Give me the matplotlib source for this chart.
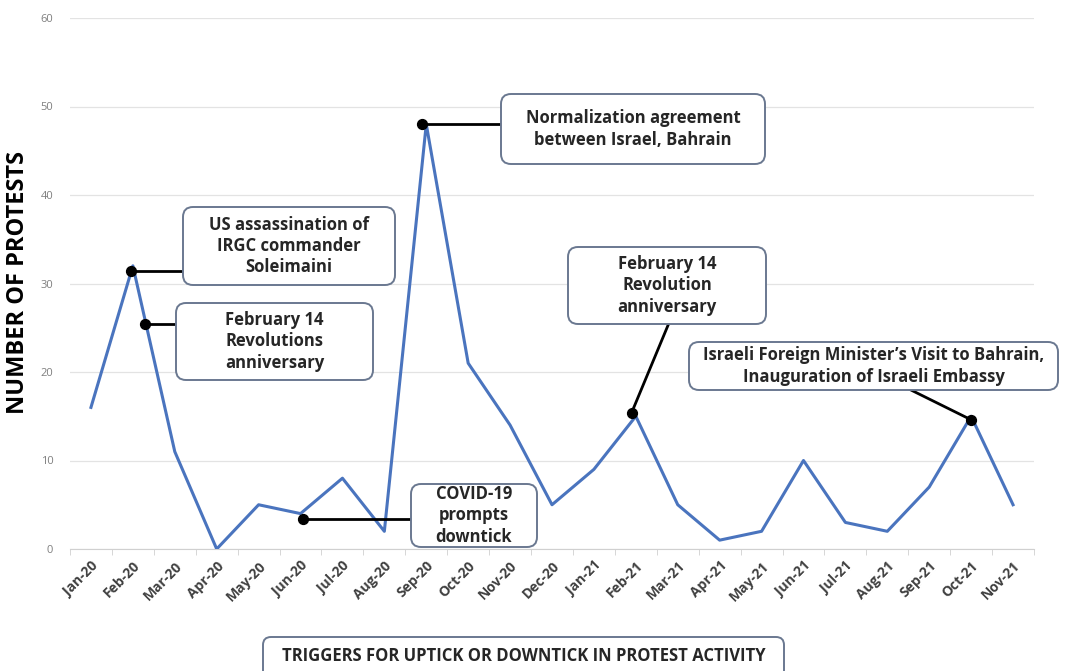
import matplotlib.pyplot as plt
from matplotlib.patches import FancyBboxPatch

plt.rcParams['font.family'] = ['Open Sans', 'DejaVu Sans']

months = ["Jan-20", "Feb-20", "Mar-20", "Apr-20", "May-20", "Jun-20", "Jul-20",
          "Aug-20", "Sep-20", "Oct-20", "Nov-20", "Dec-20", "Jan-21", "Feb-21",
          "Mar-21", "Apr-21", "May-21", "Jun-21", "Jul-21", "Aug-21", "Sep-21",
          "Oct-21", "Nov-21"]
protests = [16, 32, 11, 0, 5, 4, 8, 2, 48, 21, 14, 5, 9, 15, 5, 1, 2, 10, 3, 2, 7, 15, 5]

# trigger events (position on the month axis, value)
event_x = [0.95, 1.3, 5.05, 7.9, 12.9, 21.0]
event_y = [31.4, 25.4, 3.4, 48.0, 15.4, 14.6]
event_text = [
    "US assassination of\nIRGC commander\nSoleimaini",
    "February 14\nRevolutions\nanniversary",
    "COVID-19\nprompts\ndowntick",
    "Normalization agreement\nbetween Israel, Bahrain",
    "February 14\nRevolution\nanniversary",
    "Israeli Foreign Minister\u2019s Visit to Bahrain,\nInauguration of Israeli Embassy",
]
# box extents in pixels (left, top, right, bottom)
boxes_px = [(183, 207, 395, 285), (176, 303, 373, 380), (411, 484, 537, 547),
            (501, 94, 765, 164), (568, 247, 766, 324), (689, 342, 1058, 390)]
# connector end at the box (data coords)
conn_end = [(2.20, 31.4), (2.03, 25.4), (7.64, 3.4), (9.79, 48.0),
            (13.77, 25.3), (19.55, 18.0)]

W, H = 1066, 671
fig = plt.figure(figsize=(W / 100, H / 100), dpi=100)
ax = fig.add_axes([70 / W, 1 - 549 / H, (1034 - 70) / W, (549 - 18) / H])

x = list(range(len(months)))
ax.plot(x, protests, color="#4A74BE", lw=2.2, zorder=3)

ax.set_xlim(-0.5, len(months) - 0.5)
ax.set_ylim(0, 60)
ax.set_yticks(range(0, 61, 10))
ax.set_xticks(x)
ax.set_xticklabels(months, rotation=45, ha="right", rotation_mode="anchor",
                   fontsize=10, color="#404040", fontweight="bold")
ax.tick_params(axis="x", length=0, pad=7)
ax.tick_params(axis="y", length=0, labelsize=8, labelcolor="#7f7f7f", pad=12)
ax.set_xticks([i - 0.5 for i in range(len(months) + 1)], minor=True)
ax.tick_params(axis="x", which="minor", length=4, color="#d0d0d0", direction="out")
ax.grid(axis="y", color="#e3e3e3", lw=0.9)
for s in ["top", "right", "left"]:
    ax.spines[s].set_visible(False)
ax.spines["bottom"].set_color("#d0d0d0")
ax.set_axisbelow(True)

fig.text(18 / W, 1 - 283 / H, "NUMBER OF PROTESTS", rotation=90, ha="center",
         va="center", fontsize=17, fontweight="bold", color="black")

tr = fig.dpi_scale_trans
for i in range(len(event_x)):
    l, t, r, b = boxes_px[i]
    patch = FancyBboxPatch((l / 100, (H - b) / 100), (r - l) / 100, (b - t) / 100,
                           boxstyle="round,pad=0,rounding_size=0.1",
                           transform=tr, fc="white", ec="#6a7890", lw=1.4,
                           zorder=5, clip_on=False)
    fig.add_artist(patch)
    fig.text((l + r) / 200, (H - (t + b) / 2) / 100, event_text[i], transform=tr,
             ha="center", va="center", fontsize=12, fontweight="bold",
             color="#262626", linespacing=1.22, zorder=6)
    ex, ey = conn_end[i]
    ax.plot([event_x[i], ex], [event_y[i], ey], color="black", lw=2, zorder=4,
            clip_on=False)
ax.scatter(event_x, event_y, s=50, color="black", zorder=6, clip_on=False)

# bottom caption box
l, t, r, b = 263, 637, 784, 690
fig.add_artist(FancyBboxPatch((l / 100, (H - b) / 100), (r - l) / 100, (b - t) / 100,
                              boxstyle="round,pad=0,rounding_size=0.08",
                              transform=tr, fc="white", ec="#6a7890", lw=1.4))
fig.text((l + r) / 200, (H - 656) / 100, "TRIGGERS FOR UPTICK OR DOWNTICK IN PROTEST ACTIVITY",
         transform=tr, ha="center", va="center", fontsize=12, fontweight="bold",
         color="#262626")

fig.savefig("out.png", dpi=100)
